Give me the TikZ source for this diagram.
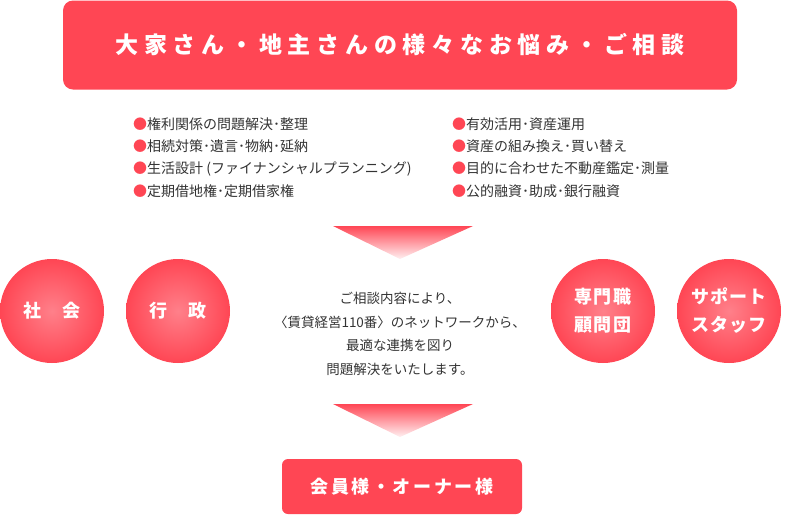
\documentclass[tikz,border=0pt]{standalone}
\usepackage{fontspec}
\usepackage{tikz}
\usetikzlibrary{positioning}
\newfontfamily\jpfont{Noto Sans CJK JP}
\newfontfamily\jptitle[LetterSpace=25]{Noto Sans CJK JP}
\newfontfamily\jpwide[LetterSpace=14]{Noto Sans CJK JP}
\newfontfamily\jpdisc[LetterSpace=6]{Noto Sans CJK JP}
\definecolor{boxred}{HTML}{FF4654}
\definecolor{discin}{HTML}{FF808A}
\definecolor{bodygray}{HTML}{333333}
\newcommand{\rdot}{\textcolor{boxred}{●}}

\begin{document}
\begin{tikzpicture}[x=1pt, y=-1pt,
	headbox/.style={rectangle, rounded corners=10pt, fill=boxred, text=white, inner sep=0pt},
	disc/.style={circle, minimum size=104pt, inner sep=0pt, inner color=discin, outer color=boxred, text=white, align=center, font=\jpdisc\bfseries\fontsize{18}{28}\selectfont},
	itemlist/.style={anchor=west, align=left, inner sep=0pt, text=bodygray, font=\jpfont\fontsize{14}{22.3}\selectfont},
	downarrow/.style={top color=boxred, bottom color=boxred!8}]
	\useasboundingbox (0,0) rectangle (785,515);
	% Top box
	\node[headbox, minimum width=674pt, minimum height=89pt] (worry) at (400,45)
		{\jptitle\bfseries\fontsize{23}{23}\selectfont 大家さん・地主さんの様々なお悩み・ご相談};
	% Lists
	\node[itemlist] (leftlist) at (133,157.5) {\rdot 権利関係の問題解決･整理\\ \rdot 相続対策･遺言･物納･延納\\ \rdot 生活設計 (ファイナンシャルプランニング)\\ \rdot 定期借地権･定期借家権};
	\node[itemlist] (rightlist) at (452,157.5) {\rdot 有効活用･資産運用\\ \rdot 資産の組み換え･買い替え\\ \rdot 目的に合わせた不動産鑑定･測量\\ \rdot 公的融資･助成･銀行融資};
	% Arrows
	\shade[downarrow] (333,226) -- (473,226) -- (400,259) -- cycle;
	\shade[downarrow] (333,404) -- (473,404) -- (400,437) -- cycle;
	% Circles
	\foreach \name/\x/\txt in {shakai/52/{社　会}, gyosei/178/{行　政}, senmon/603/{専門職\\顧問団}, support/729/{サポート\\スタッフ}} {
		\node[disc] (\name) at (\x,311) {\txt};
	}
	\node[align=center, inner sep=0pt, text=bodygray, font=\jpfont\fontsize{13.5}{23.6}\selectfont] (network) at (400,334)
		{ご相談内容により、\\〈賃貸経営110番〉のネットワークから、\\最適な連携を図り\\問題解決をいたします。};
	% Bottom box
	\node[headbox, rounded corners=6pt, minimum width=240pt, minimum height=55pt] (members) at (402,486.5)
		{\jpwide\bfseries\fontsize{18}{18}\selectfont 会員様・オーナー様};
\end{tikzpicture}
\end{document}
